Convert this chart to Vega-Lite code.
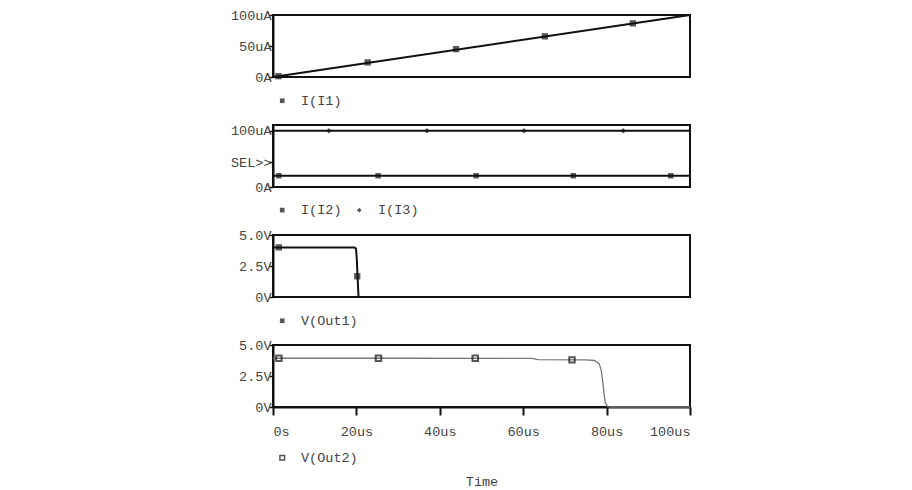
{
  "$schema": "https://vega.github.io/schema/vega-lite/v6.json",
  "padding": {"left": 229, "top": 7, "right": 5, "bottom": 5},
  "background": "white",
  "spacing": 48,
  "bounds": "flush",
  "resolve": {"scale": {"x": "independent", "y": "independent", "shape": "independent"}, "legend": {"shape": "independent"}},
  "config": {
    "font": "Liberation Mono",
    "view": {"stroke": "#111", "strokeWidth": 2},
    "axis": {"grid": false, "labelOverlap": false, "labelFont": "Liberation Mono", "labelFontSize": 13.5, "labelColor": "#444", "domainColor": "#111", "domainWidth": 2, "tickColor": "#111", "tickWidth": 1.5, "titleFont": "Liberation Mono", "titleFontWeight": "normal", "titleFontSize": 13.5, "titleColor": "#444"},
    "legend": {"labelFont": "Liberation Mono", "labelFontSize": 13.5, "labelColor": "#444", "padding": 0, "labelOffset": 12, "direction": "horizontal", "columnPadding": 10, "symbolStrokeColor": "#111", "symbolFillColor": "#666", "symbolStrokeWidth": 1.5, "symbolSize": 22}
  },
  "datasets": {
    "i1_line": [{"t": 0, "v": 0}, {"t": 100, "v": 100}],
    "i1_mark": [
      {"t": 1.3, "v": 1.3, "series": "I(I1)"},
      {"t": 22.7, "v": 23.5, "series": "I(I1)"},
      {"t": 43.9, "v": 45, "series": "I(I1)"},
      {"t": 65.2, "v": 65.6, "series": "I(I1)"},
      {"t": 86.3, "v": 86.5, "series": "I(I1)"}
    ],
    "i23_line": [
      {"t": 0, "v": 20, "series": "I(I2)"}, {"t": 100, "v": 20, "series": "I(I2)"},
      {"t": 0, "v": 100, "series": "I(I3)"}, {"t": 100, "v": 100, "series": "I(I3)"}
    ],
    "i23_mark": [
      {"t": 1.4, "v": 20, "series": "I(I2)"},
      {"t": 25.2, "v": 20, "series": "I(I2)"},
      {"t": 48.7, "v": 20, "series": "I(I2)"},
      {"t": 72.0, "v": 20, "series": "I(I2)"},
      {"t": 95.4, "v": 20, "series": "I(I2)"},
      {"t": 13.4, "v": 100, "series": "I(I3)"},
      {"t": 36.9, "v": 100, "series": "I(I3)"},
      {"t": 60.2, "v": 100, "series": "I(I3)"},
      {"t": 84.0, "v": 100, "series": "I(I3)"}
    ],
    "v1_line": [
      {"t": 0, "v": 4.0}, {"t": 19.5, "v": 4.0}, {"t": 19.9, "v": 3.9}, {"t": 20.1, "v": 3.0},
      {"t": 20.3, "v": 1.5}, {"t": 20.5, "v": 0.05}, {"t": 20.7, "v": 0}, {"t": 100, "v": 0}
    ],
    "v1_mark": [
      {"t": 1.4, "v": 4.0, "series": "V(Out1)"},
      {"t": 20.2, "v": 1.67, "series": "V(Out1)"}
    ],
    "v2_line": [
      {"t": 0, "v": 3.93}, {"t": 30, "v": 3.93}, {"t": 62, "v": 3.92}, {"t": 63.5, "v": 3.82},
      {"t": 75, "v": 3.8}, {"t": 77.1, "v": 3.75}, {"t": 78.2, "v": 3.5}, {"t": 78.7, "v": 3.0},
      {"t": 79.1, "v": 2.0}, {"t": 79.4, "v": 1.0}, {"t": 79.7, "v": 0.35}, {"t": 80.3, "v": 0.02},
      {"t": 81, "v": 0}, {"t": 100, "v": 0}
    ],
    "v2_mark": [
      {"t": 1.4, "v": 3.93, "series": "V(Out2)"},
      {"t": 25.3, "v": 3.93, "series": "V(Out2)"},
      {"t": 48.5, "v": 3.93, "series": "V(Out2)"},
      {"t": 71.7, "v": 3.8, "series": "V(Out2)"}
    ]
  },
  "vconcat": [
    {
      "width": 417, "height": 62,
      "layer": [
        {
          "data": {"name": "i1_line"},
          "mark": {"type": "line", "color": "#111", "strokeWidth": 2},
          "encoding": {
            "x": {"field": "t", "type": "quantitative", "scale": {"domain": [0, 100], "nice": false}, "axis": null},
            "y": {"field": "v", "type": "quantitative", "scale": {"domain": [0, 100], "nice": false},
                  "axis": {"title": null, "values": [0, 50, 100], "tickCount": 10, "labelOverlap": false, "labelExpr": "datum.value==0?'0A':datum.value+'uA'", "tickSize": 4, "labelPadding": -2}}
          }
        },
        {
          "data": {"name": "i1_mark"},
          "mark": {"type": "point", "filled": true, "color": "#111", "size": 40},
          "encoding": {
            "x": {"field": "t", "type": "quantitative"},
            "y": {"field": "v", "type": "quantitative"},
            "shape": {"field": "series", "type": "nominal", "scale": {"domain": ["I(I1)"], "range": ["square"]},
                      "legend": {"title": null, "orient": "none", "legendX": 2.5, "legendY": 79}}
          }
        }
      ]
    },
    {
      "width": 417, "height": 62,
      "layer": [
        {
          "data": {"name": "i23_line"},
          "mark": {"type": "line", "color": "#111", "strokeWidth": 2},
          "encoding": {
            "x": {"field": "t", "type": "quantitative", "scale": {"domain": [0, 100], "nice": false}, "axis": null},
            "y": {"field": "v", "type": "quantitative", "scale": {"domain": [0, 110], "nice": false},
                  "axis": {"title": null, "values": [0, 44, 100], "tickCount": 10, "labelOverlap": false, "labelExpr": "datum.value==0?'0A':datum.value==100?'100uA':'SEL>>'", "tickSize": 4, "labelPadding": -2}},
            "detail": {"field": "series", "type": "nominal"}
          }
        },
        {
          "data": {"name": "i23_mark"},
          "mark": {"type": "point", "filled": true, "color": "#111", "size": 30},
          "encoding": {
            "x": {"field": "t", "type": "quantitative"},
            "y": {"field": "v", "type": "quantitative"},
            "shape": {"field": "series", "type": "nominal", "scale": {"domain": ["I(I2)", "I(I3)"], "range": ["square", "diamond"]},
                      "legend": {"title": null, "orient": "none", "legendX": 2.5, "legendY": 78}}
          }
        }
      ]
    },
    {
      "width": 417, "height": 62,
      "layer": [
        {
          "data": {"name": "v1_line"},
          "mark": {"type": "line", "color": "#111", "strokeWidth": 2},
          "encoding": {
            "x": {"field": "t", "type": "quantitative", "scale": {"domain": [0, 100], "nice": false}, "axis": null},
            "y": {"field": "v", "type": "quantitative", "scale": {"domain": [0, 5], "nice": false},
                  "axis": {"title": null, "values": [0, 2.5, 5], "tickCount": 10, "labelOverlap": false, "labelExpr": "datum.value==0?'0V':format(datum.value,'.1f')+'V'", "tickSize": 4, "labelPadding": -2}}
          }
        },
        {
          "data": {"name": "v1_mark"},
          "mark": {"type": "point", "filled": true, "color": "#111", "size": 40},
          "encoding": {
            "x": {"field": "t", "type": "quantitative"},
            "y": {"field": "v", "type": "quantitative"},
            "shape": {"field": "series", "type": "nominal", "scale": {"domain": ["V(Out1)"], "range": ["square"]},
                      "legend": {"title": null, "orient": "none", "legendX": 2.5, "legendY": 79}}
          }
        }
      ]
    },
    {
      "width": 417, "height": 62,
      "layer": [
        {
          "data": {"name": "v2_line"},
          "mark": {"type": "line", "color": "#777", "strokeWidth": 1.3},
          "encoding": {
            "x": {"field": "t", "type": "quantitative", "scale": {"domain": [0, 100], "nice": false},
                  "axis": {"title": "Time", "values": [0, 20, 40, 60, 80, 100], "tickCount": 10, "labelExpr": "datum.value==0?'0s':datum.value+'us'", "tickSize": 8, "tickWidth": 2, "labelPadding": 9, "titlePadding": 37}},
            "y": {"field": "v", "type": "quantitative", "scale": {"domain": [0, 5], "nice": false},
                  "axis": {"title": null, "values": [0, 2.5, 5], "tickCount": 10, "labelOverlap": false, "labelExpr": "datum.value==0?'0V':format(datum.value,'.1f')+'V'", "tickSize": 4, "labelPadding": -2}}
          }
        },
        {
          "data": {"name": "v2_mark"},
          "mark": {"type": "point", "filled": false, "color": "#111", "strokeWidth": 2, "size": 30},
          "encoding": {
            "x": {"field": "t", "type": "quantitative"},
            "y": {"field": "v", "type": "quantitative"},
            "shape": {"field": "series", "type": "nominal", "scale": {"domain": ["V(Out2)"], "range": ["square"]},
                      "legend": {"title": null, "orient": "none", "legendX": 2.5, "legendY": 106}}
          }
        }
      ]
    }
  ]
}
